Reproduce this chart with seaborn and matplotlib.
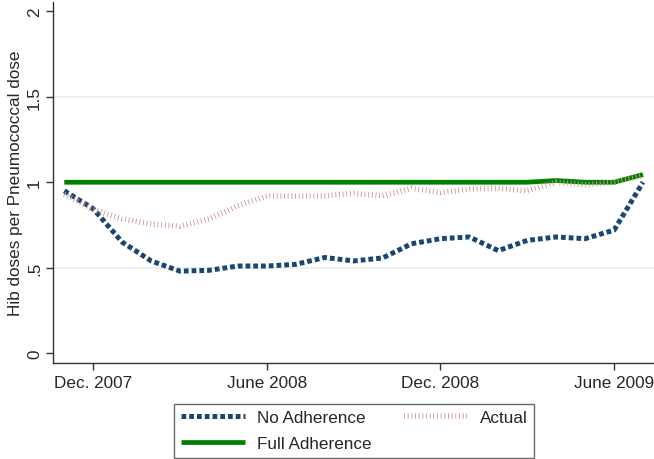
import matplotlib
matplotlib.use("Agg")
import matplotlib.pyplot as plt
import numpy as np
import pandas as pd
import seaborn as sns

# Monthly series, Nov 2007 - Jul 2009
months = ["2007-11", "2007-12", "2008-01", "2008-02", "2008-03", "2008-04",
          "2008-05", "2008-06", "2008-07", "2008-08", "2008-09", "2008-10",
          "2008-11", "2008-12", "2009-01", "2009-02", "2009-03", "2009-04",
          "2009-05", "2009-06", "2009-07"]
no_adherence = [0.95, 0.845, 0.65, 0.54, 0.48, 0.485, 0.51, 0.51, 0.52, 0.56,
                0.54, 0.557, 0.64, 0.67, 0.68, 0.60, 0.66, 0.68, 0.67, 0.72, 1.0]
actual = [0.93, 0.84, 0.785, 0.756, 0.743, 0.785, 0.863, 0.92, 0.918, 0.92,
          0.935, 0.92, 0.965, 0.94, 0.96, 0.965, 0.95, 1.0, 0.985, 1.0, 1.04]
full_adherence = [1.0, 1.0, 1.0, 1.0, 1.0, 1.0, 1.0, 1.0, 1.0, 1.0, 1.0, 1.0,
                  1.0, 1.0, 1.0, 1.0, 1.0, 1.01, 1.0, 1.0, 1.045]

tick_months = ["2007-12", "2008-06", "2008-12", "2009-06"]
tick_labels = ["Dec. 2007", "June 2008", "Dec. 2008", "June 2009"]
y_ticks = [0, 0.5, 1, 1.5, 2]
y_tick_labels = ["0", ".5", "1", "1.5", "2"]

sns.set_theme(style="white")
plt.rcParams["font.family"] = ["Liberation Sans", "DejaVu Sans"]

month_idx = [pd.Period(m, freq="M").ordinal for m in months]
df = pd.DataFrame({
    "month": month_idx,
    "No Adherence": no_adherence,
    "Actual": actual,
    "Full Adherence": full_adherence,
})

fig = plt.figure(figsize=(6.54, 4.60), dpi=100)
ax = fig.add_axes([53 / 654, 96 / 460, 1 - 53 / 654, (364 - 3) / 460])

# light horizontal grid at interior ticks
for g in [0.5, 1.5]:
    ax.axhline(g, color="#e6eef0", lw=1.2, zorder=0)

sns.lineplot(data=df, x="month", y="No Adherence", ax=ax, color="#1a476f",
             lw=3.6, label="No Adherence", zorder=3)
sns.lineplot(data=df, x="month", y="Full Adherence", ax=ax, color="#008000",
             lw=3.4, label="Full Adherence", zorder=2)
sns.lineplot(data=df, x="month", y="Actual", ax=ax, color="#cf9a9a",
             lw=4.0, label="Actual", zorder=4)

lines = ax.get_lines()
blue, green, pink = lines[-3], lines[-2], lines[-1]
blue.set_dashes((0.95, 0.6))
blue.set_dash_capstyle("butt")
pink.set_dashes((0.16, 0.5))
pink.set_dash_capstyle("butt")
green.set_solid_capstyle("butt")

x0 = month_idx[0]
ax.set_xlim(x0 - 0.39, x0 + 20.38)
ax.set_ylim(-0.057, 2.054)

ax.set_xticks([pd.Period(m, freq="M").ordinal for m in tick_months])
ax.set_xticklabels(tick_labels, fontsize=12.3)
ax.set_yticks(y_ticks)
ax.set_yticklabels(y_tick_labels, fontsize=12.3, rotation=90, va="center")
ax.set_xlabel("")
ax.set_ylabel("Hib doses per Pneumococcal dose", fontsize=12.3)
ax.yaxis.set_label_coords(-0.05, 0.5)

ax.tick_params(axis="both", which="major", direction="out", length=5,
               width=1, color="#333333", left=True, bottom=True, pad=4)
ax.tick_params(axis="y", pad=3)

for side in ["top", "right"]:
    ax.spines[side].set_visible(False)
for side in ["left", "bottom"]:
    ax.spines[side].set_color("#333333")
    ax.spines[side].set_linewidth(1)

ax.get_legend().remove()
handles = [blue, green, pink]
labels = ["No Adherence", "Full Adherence", "Actual"]
leg = fig.legend(handles, labels, ncol=2, loc="lower center",
                 bbox_to_anchor=(354 / 654, -0.017), fontsize=12.3,
                 frameon=True, fancybox=False, handlelength=3.75,
                 handletextpad=0.7, columnspacing=1.9, labelspacing=0.65,
                 borderpad=0.4)
leg.get_frame().set_edgecolor("#444444")
leg.get_frame().set_linewidth(1)

fig.savefig("out.png", dpi=100)
